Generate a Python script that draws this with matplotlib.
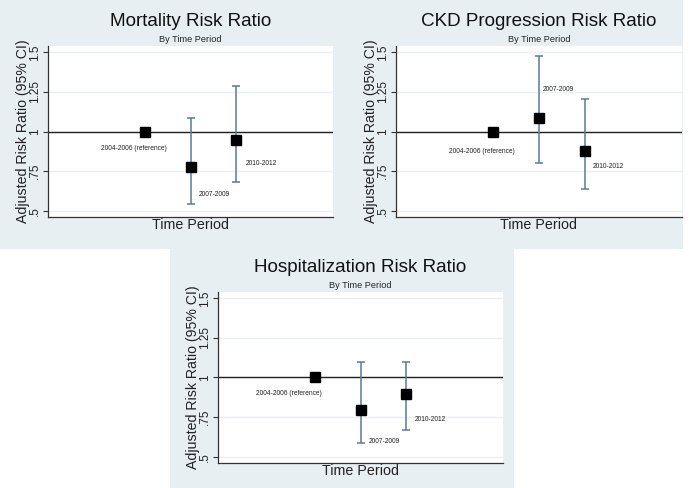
import matplotlib
matplotlib.use("Agg")
import matplotlib.pyplot as plt
from matplotlib.patches import Rectangle

plt.rcParams['font.family'] = ['Liberation Sans', 'DejaVu Sans']

# ---- data ----
periods = ["2004-2006 (reference)", "2007-2009", "2010-2012"]
x_pos = [1, 2, 3]
titles = ["Mortality Risk Ratio", "CKD Progression Risk Ratio", "Hospitalization Risk Ratio"]
subtitle = "By Time Period"
ytick_vals = [0.5, 0.75, 1.0, 1.25, 1.5]
ytick_labels = [".5", ".75", "1", "1.25", "1.5"]

mort_rr = [1.00, 0.775, 0.947]
mort_lo = [1.00, 0.543, 0.684]
mort_hi = [1.00, 1.086, 1.286]

ckd_rr = [1.00, 1.086, 0.876]
ckd_lo = [1.00, 0.798, 0.634]
ckd_hi = [1.00, 1.480, 1.206]

hosp_rr = [1.00, 0.794, 0.895]
hosp_lo = [1.00, 0.586, 0.670]
hosp_hi = [1.00, 1.095, 1.095]

# label offsets in pixels (dx, dy, ha)
mort_lab = [(-11, -17, 'center'), (8, -27, 'left'), (9, -24, 'left')]
ckd_lab = [(-11, -20, 'center'), (4, 28, 'left'), (8, -15, 'left')]
hosp_lab = [(-26, -16, 'center'), (8, -31, 'left'), (8, -25, 'left')]

W, H = 694, 488
fig = plt.figure(figsize=(W / 100, H / 100), dpi=100)
fig.patch.set_facecolor('white')

bg = '#e8eff3'
for (x0, y0, w, h) in [(0, 0, 683, 249), (170, 249, 344, 239)]:
    fig.patches.append(Rectangle((x0 / W, 1 - (y0 + h) / H), w / W, h / H,
                                 transform=fig.transFigure, facecolor=bg,
                                 edgecolor='none', zorder=-10))

axes_px = [(48, 46, 285, 171), (396, 46, 286, 171), (218, 292, 285, 171)]
series = [(mort_rr, mort_lo, mort_hi, mort_lab),
          (ckd_rr, ckd_lo, ckd_hi, ckd_lab),
          (hosp_rr, hosp_lo, hosp_hi, hosp_lab)]

for (lx, ty, w, h), title, (rr, lo, hi, labs) in zip(axes_px, titles, series):
    ax = fig.add_axes([lx / W, 1 - (ty + h) / H, w / W, h / H])
    ax.set_facecolor('white')
    ax.set_xlim(-1.1, 5.1)
    ax.set_ylim(0.46, 1.54)
    for s in ['top', 'right']:
        ax.spines[s].set_visible(False)
    for s in ['left', 'bottom']:
        ax.spines[s].set_color('#333333')
        ax.spines[s].set_linewidth(0.9)
    ax.set_xticks([])
    ax.set_yticks(ytick_vals)
    ax.set_yticklabels(ytick_labels, rotation=90, va='center', fontsize=8.5,
                       color='#222222')
    ax.tick_params(axis='y', length=3.6, width=0.8, color='#333333', pad=1.5)
    ax.grid(axis='y', color='#e9eff3', linewidth=1.0)
    ax.set_axisbelow(True)
    ax.axhline(1.0, color='#222222', linewidth=1.0, zorder=2)

    # error bars (skip reference)
    for i in range(len(x_pos)):
        if hi[i] != lo[i]:
            ax.errorbar([x_pos[i]], [rr[i]],
                        yerr=[[rr[i] - lo[i]], [hi[i] - rr[i]]],
                        fmt='none', ecolor='#5b7b98', elinewidth=1.1,
                        capsize=2.9, capthick=1.1, zorder=3)
    ax.plot(x_pos, rr, linestyle='none', marker='s', markersize=7.5,
            color='black', zorder=4)
    for i, (dx, dy, ha) in enumerate(labs):
        ax.annotate(periods[i], (x_pos[i], rr[i]), xytext=(dx, dy),
                    textcoords='offset pixels', ha=ha, va='center',
                    fontsize=4.8, color='#222222')

    ax.set_ylabel("Adjusted Risk Ratio (95% CI)", fontsize=10.2, labelpad=-0.5,
                  color='#222222')
    ax.set_xlabel("Time Period", fontsize=10.3, labelpad=1, color='#222222')
    cx = (lx + w / 2) / W
    fig.text(cx, 1 - (ty - 24) / H, title, ha='center', va='center',
             fontsize=13.6, color='#111111')
    fig.text(cx, 1 - (ty - 7) / H, subtitle, ha='center', va='center',
             fontsize=6.6, color='#222222')

fig.savefig("out.png", dpi=100)
